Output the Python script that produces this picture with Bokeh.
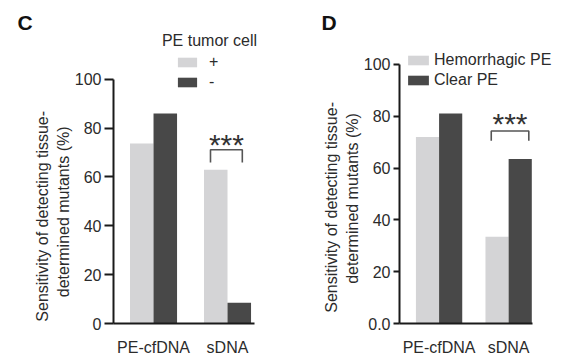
from bokeh.plotting import figure
from bokeh.models import (ColumnDataSource, Legend, LegendItem, Label, FixedTicker,
                          Range1d)
from bokeh.transform import dodge
from bokeh.layouts import row
from bokeh.embed import file_html
from bokeh.resources import INLINE

# ---------------- data ----------------
categories = ["PE-cfDNA", "sDNA"]

c_positive = [73.7, 62.9]    # PE tumor cell +
c_negative = [86.0, 8.5]     # PE tumor cell -
c_legend = ["+", "-"]
c_legend_title = "PE tumor cell"

d_hemorrhagic = [72.0, 33.5]
d_clear = [81.0, 63.5]
d_legend = ["Hemorrhagic PE", "Clear PE"]

y_ticks = [0, 20, 40, 60, 80, 100]
c_tick_labels = ["0", "20", "40", "60", "80", "100"]
d_tick_labels = ["0.0", "20", "40", "60", "80", "100"]

y_label_lines = ["Sensitivity of detecting tissue-", "determined mutants (%)"]
significance = "***"

LIGHT = "#d4d4d6"
DARK = "#484848"
TEXT = "#2b2b2b"
FONT = "Liberation Sans"
NBSP = "\u00a0"


def make_panel(letter, light_vals, dark_vals, labels, tick_labels,
               x_start, x_end, axis_end, y_end, bar_w, border_left, border_right,
               legend_loc, glyph_w, standoff, bracket, star_y, letter_offset,
               tick_len, tick_standoff, label_pad):
    x = [i + 1 for i in range(len(categories))]
    src = ColumnDataSource(dict(x=x, light=light_vals, dark=dark_vals))
    p = figure(width=294, height=358, output_backend="svg", toolbar_location=None,
               x_range=Range1d(x_start, x_end), y_range=Range1d(0, y_end),
               min_border_left=border_left, min_border_right=border_right,
               min_border_top=33, min_border_bottom=33)
    p.outline_line_color = None
    p.grid.visible = False
    p.background_fill_color = "white"
    p.border_fill_color = "white"

    p.title.text = letter
    p.title.text_font = FONT
    p.title.text_font_size = "21px"
    p.title.text_font_style = "bold"
    p.title.text_color = "#111111"
    p.title.align = "left"
    p.title.offset = letter_offset
    p.title.standoff = 0

    r1 = p.vbar(x=dodge("x", -bar_w / 2, range=p.x_range), top="light", width=bar_w,
                source=src, fill_color=LIGHT, line_color=None)
    r2 = p.vbar(x=dodge("x", bar_w / 2, range=p.x_range), top="dark", width=bar_w,
                source=src, fill_color=DARK, line_color=None)

    # axes
    p.xaxis.ticker = FixedTicker(ticks=x)
    p.xaxis.bounds = (x_start, axis_end)
    p.xaxis.major_label_overrides = {xi: c for xi, c in zip(x, categories)}
    p.xaxis.major_tick_line_color = None
    p.xaxis.minor_tick_line_color = None
    p.xaxis.axis_line_width = 2
    p.xaxis.axis_line_color = "#1a1a1a"
    p.xaxis.major_label_text_font_size = "16px"
    p.xaxis.major_label_text_font = FONT
    p.xaxis.major_label_text_color = TEXT
    p.xaxis.major_label_standoff = 9

    p.yaxis.ticker = FixedTicker(ticks=y_ticks)
    p.yaxis.bounds = (0, 100)
    p.yaxis.major_label_overrides = {t: l for t, l in zip(y_ticks, tick_labels)}
    p.yaxis.minor_tick_line_color = None
    p.yaxis.major_tick_in = 0
    p.yaxis.major_tick_out = tick_len
    p.yaxis.major_tick_line_width = 2
    p.yaxis.major_tick_line_color = "#1a1a1a"
    p.yaxis.axis_line_width = 2
    p.yaxis.axis_line_color = "#1a1a1a"
    p.yaxis.major_label_text_font_size = "16px"
    p.yaxis.major_label_text_font = FONT
    p.yaxis.major_label_text_color = TEXT
    p.yaxis.major_label_standoff = tick_standoff
    # the label is centred on the whole frame; trailing no-break spaces shift
    # the visible text down so it sits beside the 0-100 part of the axis
    p.yaxis.axis_label = "\n".join(line + NBSP * n
                                   for line, n in zip(y_label_lines, label_pad))
    p.yaxis.axis_label_text_font_size = "16px"
    p.yaxis.axis_label_text_font = FONT
    p.yaxis.axis_label_text_font_style = "normal"
    p.yaxis.axis_label_text_color = TEXT
    p.yaxis.axis_label_standoff = 0

    legend = Legend(items=[LegendItem(label=labels[0], renderers=[r1]),
                           LegendItem(label=labels[1], renderers=[r2])],
                    location=legend_loc, padding=0, margin=0, spacing=0,
                    glyph_width=glyph_w, glyph_height=12, label_height=20,
                    label_standoff=standoff, label_text_font_size="16px",
                    label_text_font=FONT, label_text_color=TEXT,
                    border_line_color=None, background_fill_alpha=0)
    p.add_layout(legend, "center")

    # significance bracket
    bx0, bx1, by_top, by_low = bracket
    c = x[1]
    p.multi_line(xs=[[c + bx0, c + bx0, c + bx1, c + bx1]],
                 ys=[[by_low, by_top, by_top, by_low]],
                 line_color="#555555", line_width=1.6)
    p.add_layout(Label(x=c + (bx0 + bx1) / 2, y=star_y, text=significance,
                       text_align="center", text_baseline="alphabetic",
                       text_font_size="30px", text_font=FONT, text_color="#333333"))
    return p


pc = make_panel("C", c_positive, c_negative, c_legend, c_tick_labels,
                x_start=0.459, x_end=2.581, axis_end=2.365, y_end=118.7, bar_w=0.318,
                border_left=113, border_right=24,
                legend_loc=(62, 231), glyph_w=24, standoff=10,
                bracket=(-0.23, 0.20, 71.1, 65.9), star_y=73.4,
                letter_offset=-96, tick_len=9, tick_standoff=3,
                label_pad=(17, 15))
pc.add_layout(Label(x=96, y=283, x_units="screen", y_units="screen",
                    text=c_legend_title, text_align="center", text_baseline="middle",
                    text_font_size="16px", text_font=FONT, text_color=TEXT))

pd_ = make_panel("D", d_hemorrhagic, d_clear, d_legend, d_tick_labels,
                 x_start=0.431, x_end=2.875, axis_end=2.347, y_end=111.9, bar_w=0.333,
                 border_left=105, border_right=19,
                 legend_loc=(6, 233), glyph_w=26, standoff=3,
                 bracket=(-0.25, 0.29, 74.3, 70.5), star_y=77.2,
                 letter_offset=-78, tick_len=6, tick_standoff=3,
                 label_pad=(13, 9))

layout = row(pc, pd_)
open("out.html", "w").write(file_html(layout, INLINE))
